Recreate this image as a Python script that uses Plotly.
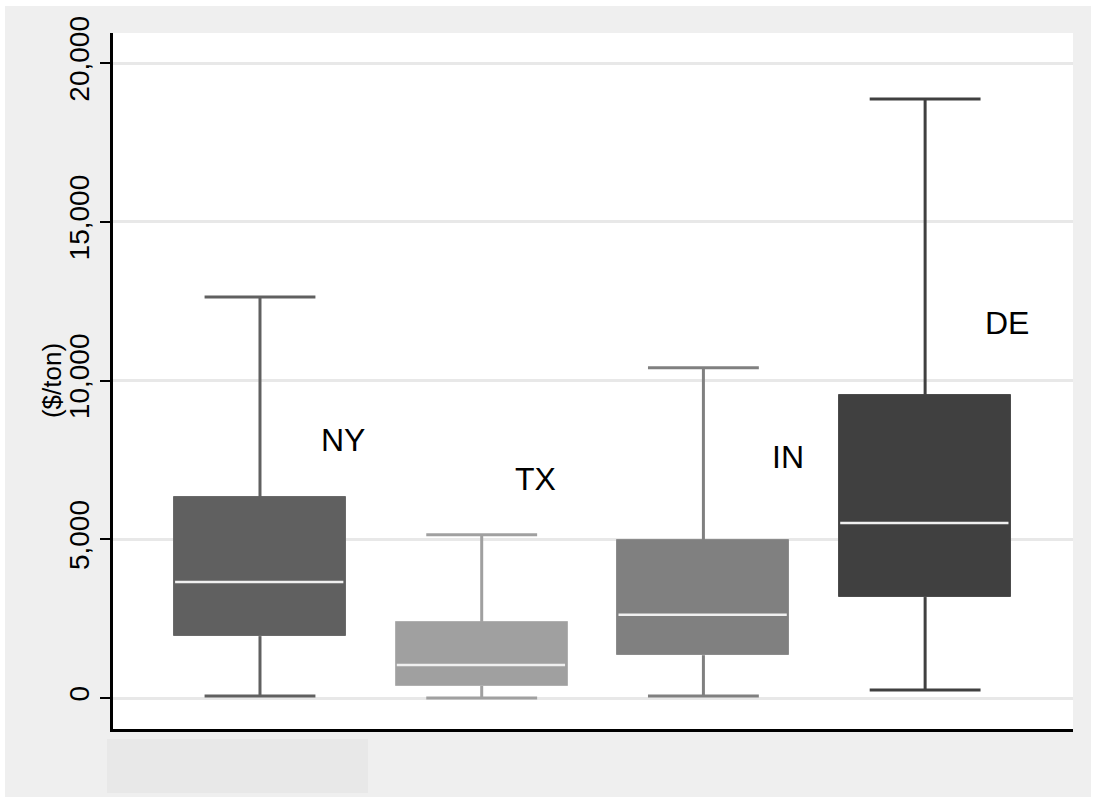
import plotly.graph_objects as go

# Box-plot summary statistics ($/ton) by state
states = ["NY", "TX", "IN", "DE"]
lower = [60, 0, 60, 250]
q1 = [1950, 380, 1350, 3180]
median = [3650, 1040, 2620, 5510]
q3 = [6330, 2400, 4980, 9550]
upper = [12630, 5140, 10400, 18870]

fills = ["#606060", "#a0a0a0", "#808080", "#404040"]
edges = ["#6a6a6a", "#b0b0b0", "#8c8c8c", "#4c4c4c"]

y_ticks = [0, 5000, 10000, 15000, 20000]
y_ticktext = ["0", "5,000", "10,000", "15,000", "20,000"]

xpos = [1, 2, 3, 4]
box_w = 0.776
cap_w = 0.5

fig = go.Figure()

# Boxes (interquartile range)
fig.add_trace(go.Bar(
    x=xpos,
    base=q1,
    y=[b - a for a, b in zip(q1, q3)],
    width=box_w,
    marker=dict(color=fills, line=dict(color=edges, width=1)),
    hoverinfo="skip",
    showlegend=False,
))

# Whiskers and caps, one trace per box
for i, xc in enumerate(xpos):
    xs = [xc, xc, None, xc, xc, None,
          xc - cap_w / 2, xc + cap_w / 2, None,
          xc - cap_w / 2, xc + cap_w / 2]
    ys = [q3[i], upper[i], None, q1[i], lower[i], None,
          upper[i], upper[i], None,
          lower[i], lower[i]]
    fig.add_trace(go.Scatter(
        x=xs, y=ys, mode="lines",
        line=dict(color=fills[i], width=3),
        hoverinfo="skip", showlegend=False,
    ))

# Median lines
mx, my = [], []
for i, xc in enumerate(xpos):
    mx += [xc - box_w / 2 + 0.005, xc + box_w / 2 - 0.012, None]
    my += [median[i], median[i], None]
fig.add_trace(go.Scatter(
    x=mx, y=my, mode="lines",
    line=dict(color="#f0f0f0", width=2.5),
    hoverinfo="skip", showlegend=False,
))

FONT = "Liberation Sans, Arial, sans-serif"

# State name labels
label_x = [1.374, 2.244, 3.383, 4.37]
label_y = [8126, 6898, 7591, 11811]
annotations = [
    dict(x=lx, y=ly, text=s, showarrow=False, xref="x", yref="y",
         font=dict(family=FONT, size=32, color="black"))
    for s, lx, ly in zip(states, label_x, label_y)
]
annotations.append(dict(
    x=-0.0635, y=0.5, xref="paper", yref="paper", text="($/ton)",
    textangle=-90, showarrow=False, xanchor="center", yanchor="middle",
    font=dict(family=FONT, size=26, color="black"),
))

shapes = [
    # outer graph region
    dict(type="rect", xref="paper", yref="paper", x0=-0.1125, x1=1.0188,
         y0=-0.0977, y1=1.0388, fillcolor="#efefef", line=dict(width=0), layer="below"),
    # plot region
    dict(type="rect", xref="paper", yref="paper", x0=0, x1=1, y0=0, y1=1,
         fillcolor="white", line=dict(width=0), layer="below"),
    # empty legend area
    dict(type="rect", xref="paper", yref="paper", x0=-0.00625, x1=0.2656,
         y0=-0.092, y1=-0.0144, fillcolor="#e8e8e8", line=dict(width=0), layer="below"),
]

fig.update_layout(
    width=1094, height=797,
    margin=dict(l=113, r=21, t=33, b=68, pad=0),
    paper_bgcolor="white",
    plot_bgcolor="rgba(0,0,0,0)",
    font=dict(family=FONT, size=28, color="black"),
    annotations=annotations,
    shapes=shapes,
    bargap=0,
    xaxis=dict(
        range=[0.337, 4.667], showticklabels=False, ticks="",
        showgrid=False, zeroline=False,
        showline=True, linecolor="black", linewidth=2.5,
    ),
    yaxis=dict(
        range=[-976, 20945],
        tickvals=y_ticks, ticktext=y_ticktext, tickangle=-90,
        ticks="outside", ticklen=10, tickwidth=2, tickcolor="black",
        showgrid=True, gridcolor="#e8e8e8", gridwidth=2.5,
        zeroline=False,
        showline=True, linecolor="black", linewidth=2.5,
        tickfont=dict(family=FONT, size=28, color="black"),
    ),
)

fig.write_html("out.html")
